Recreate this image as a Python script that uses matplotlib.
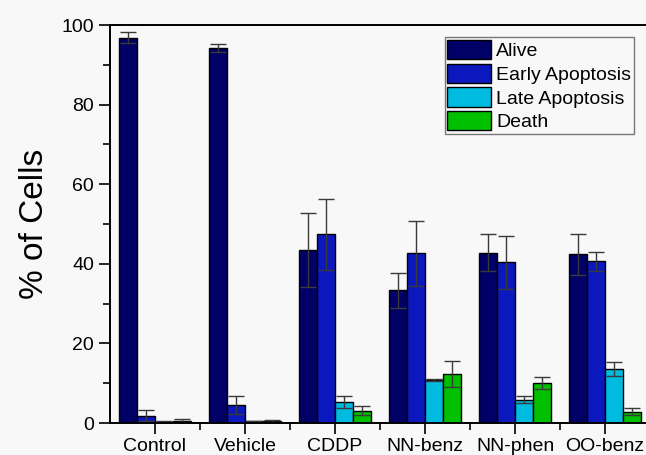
# Cell viability / apoptosis bar chart (% of cells per treatment)
import numpy as np
import matplotlib
from matplotlib import pyplot as plt
from matplotlib.ticker import MultipleLocator, FixedLocator

matplotlib.rcParams["font.family"] = ["Liberation Sans", "DejaVu Sans"]

groups = ["Control", "Vehicle", "CDDP", "NN-benz", "NN-phen", "OO-benz"]
series = ["Alive", "Early Apoptosis", "Late Apoptosis", "Death"]

alive = [96.8, 94.2, 43.5, 33.3, 42.8, 42.4]
alive_err = [1.4, 1.1, 9.3, 4.5, 4.6, 5.2]
early = [1.8, 4.5, 47.4, 42.6, 40.4, 40.6]
early_err = [1.4, 2.2, 9.0, 8.2, 6.7, 2.4]
late = [0.3, 0.4, 5.3, 10.8, 5.9, 13.5]
late_err = [0.1, 0.1, 1.5, 0.2, 0.8, 1.8]
death = [0.6, 0.5, 3.1, 12.4, 10.1, 2.8]
death_err = [0.3, 0.3, 1.1, 3.3, 1.5, 0.9]

colors = ["#000066", "#0a18bd", "#00bbe0", "#00c000"]

bg = "#f8f8f8"
fig = plt.figure(figsize=(6.46, 4.55), dpi=100, facecolor=bg)
ax = fig.add_axes([110 / 646, 1 - 423 / 455, 540 / 646, 398 / 455], facecolor=bg)

x = np.arange(len(groups))
width = 0.2
vals = [alive, early, late, death]
errs = [alive_err, early_err, late_err, death_err]
for i, (v, e, c, name) in enumerate(zip(vals, errs, colors, series)):
    ax.bar(x + (i - 1.5) * width, v, width, yerr=e, color=c, edgecolor="black",
           linewidth=1, label=name, capsize=5.5,
           error_kw=dict(ecolor="#3a3a3a", elinewidth=1, capthick=1))

ax.set_xlim(-0.5, 5.5)
ax.set_ylim(0, 100)
ax.set_xticks(x)
ax.set_xticklabels(groups, fontsize=14)
ax.xaxis.set_minor_locator(FixedLocator(x[:-1] + 0.5))
ax.yaxis.set_major_locator(MultipleLocator(20))
ax.yaxis.set_minor_locator(MultipleLocator(10))
ax.tick_params(axis="both", which="major", direction="out", length=8, width=1.2,
               labelsize=14, colors="black")
ax.tick_params(axis="both", which="minor", direction="out", length=5, width=1.2)
ax.tick_params(axis="x", which="major", pad=3)
ax.set_ylabel("% of Cells", fontsize=24, labelpad=8)
for s in ax.spines.values():
    s.set_linewidth(1.4)

leg = ax.legend(loc="upper right", bbox_to_anchor=(634 / 646, 1 - 37 / 455),
                bbox_transform=fig.transFigure, fontsize=14, frameon=True,
                fancybox=False, framealpha=1, edgecolor="#777777",
                labelspacing=0.18, handlelength=2.25, handleheight=1.15,
                handletextpad=0.25, borderpad=0.15, borderaxespad=0)
leg.get_frame().set_facecolor(bg)

plt.savefig("out.png", dpi=100, facecolor=bg)
